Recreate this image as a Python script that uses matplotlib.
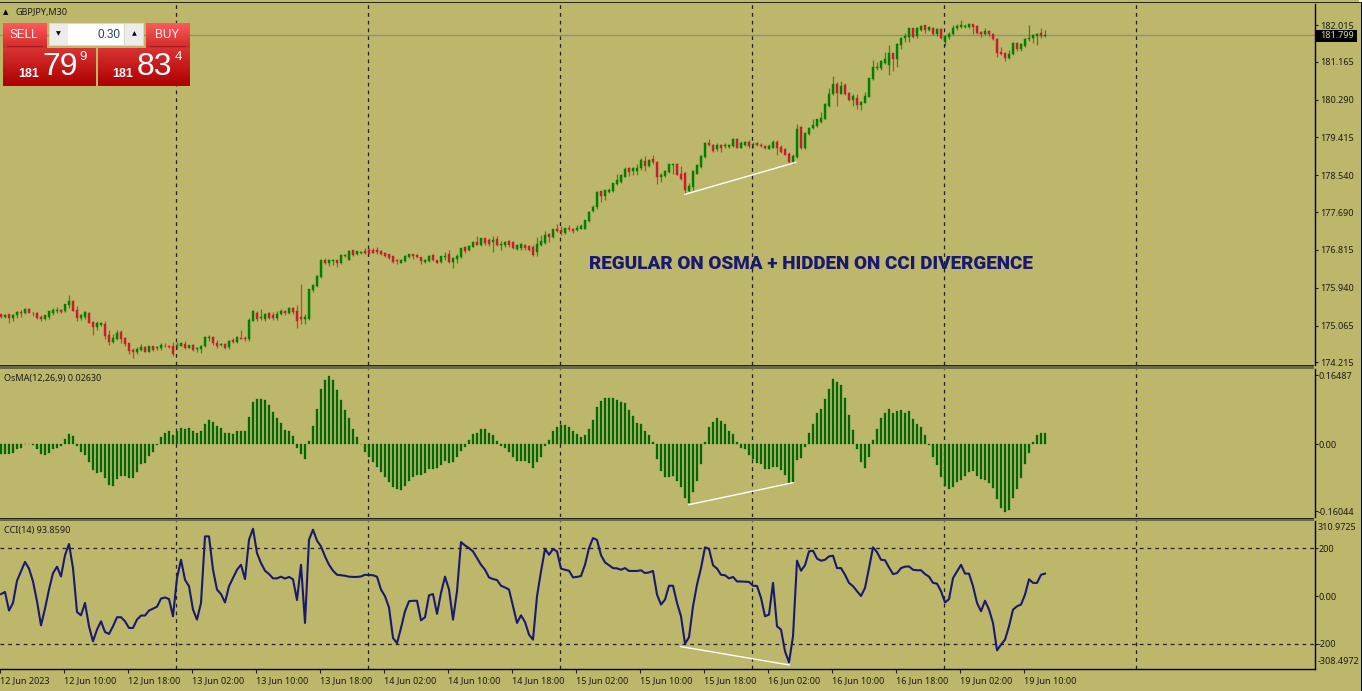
"""GBPJPY M30 terminal screenshot: candles, OsMA and CCI panes."""

import numpy as np
import matplotlib
matplotlib.use("Agg")
import matplotlib.pyplot as plt
from matplotlib.colors import LinearSegmentedColormap
from matplotlib.patches import Rectangle

# candles, one entry per 30 minute bar
opens = [
    175.33,175.27,175.32,175.25,175.30,175.37,175.35,175.45,175.36,175.36,
    175.27,175.21,175.26,175.36,175.39,175.43,175.39,175.54,175.64,175.42,
    175.24,175.26,175.36,175.14,175.02,175.08,175.11,174.84,174.68,174.75,
    174.91,174.77,174.66,174.51,174.45,174.51,174.56,174.46,174.58,174.54,
    174.54,174.60,174.60,174.58,174.59,174.59,174.63,174.55,174.61,174.52,
    174.52,174.58,174.78,174.79,174.67,174.61,174.63,174.56,174.73,174.68,
    174.78,174.78,174.75,175.17,175.36,175.25,175.22,175.35,175.30,175.24,
    175.33,175.39,175.36,175.46,175.39,175.26,175.22,175.22,175.88,175.98,
    176.19,176.575,176.50,176.56,176.575,176.50,176.68,176.59,176.81,176.71,
    176.74,176.78,176.81,176.81,176.81,176.79,176.75,176.71,176.67,176.58,
    176.52,176.55,176.65,176.71,176.70,176.65,176.54,176.56,176.70,176.58,
    176.54,176.64,176.71,176.54,176.60,176.65,176.87,176.81,176.88,176.99,
    176.92,177.09,177.04,177.00,177.06,176.93,176.92,177.01,176.99,176.84,
    176.85,176.93,176.90,176.88,176.77,176.92,176.98,177.19,177.11,177.29,
    177.28,177.21,177.33,177.29,177.27,177.29,177.30,177.49,177.72,177.80,
    178.17,178.06,178.16,178.17,178.34,178.39,178.50,178.70,178.64,178.64,
    178.70,178.87,178.75,178.91,178.85,178.50,178.52,178.62,178.77,178.81,
    178.58,178.60,178.18,178.26,178.58,178.72,178.97,179.28,179.25,179.14,
    179.24,179.21,179.19,179.22,179.38,179.18,179.25,179.31,179.24,179.28,
    179.25,179.21,179.15,179.18,179.32,179.20,179.14,179.04,178.84,178.97,
    179.66,179.16,179.49,179.63,179.68,179.77,179.85,180.15,180.42,180.65,
    180.43,180.62,180.45,180.28,180.33,180.16,180.22,180.36,180.76,181.02,
    181.03,181.14,181.10,181.36,181.24,181.55,181.71,181.73,181.94,181.76,
    181.91,182.01,181.90,181.95,181.81,181.92,181.63,181.73,181.81,181.95,
    181.98,181.98,181.96,182.04,181.99,181.85,181.81,181.88,181.81,181.69,
    181.39,181.37,181.25,181.34,181.61,181.45,181.54,181.68,181.71,181.77,
    181.82,181.76]
highs = [
    175.34,175.33,175.33,175.33,175.39,175.43,175.46,175.46,175.37,175.37,
    175.30,175.31,175.40,175.46,175.50,175.45,175.57,175.77,175.66,175.51,
    175.34,175.41,175.37,175.16,175.16,175.14,175.16,174.95,174.88,174.95,
    174.95,174.80,174.67,174.55,174.57,174.64,174.58,174.60,174.60,174.60,
    174.67,174.65,174.61,174.69,174.68,174.68,174.70,174.62,174.63,174.57,
    174.62,174.82,174.85,174.82,174.72,174.67,174.65,174.74,174.78,174.82,
    174.95,174.82,175.25,175.43,175.39,175.45,175.36,175.37,175.38,175.40,
    175.45,175.43,175.50,175.50,175.53,176.03,175.34,175.90,176.03,176.24,
    176.61,176.63,176.61,176.61,176.59,176.71,176.72,176.81,176.82,176.79,
    176.79,176.85,176.86,176.85,176.87,176.81,176.77,176.73,176.68,176.61,
    176.61,176.70,176.73,176.72,176.71,176.65,176.60,176.70,176.73,176.59,
    176.68,176.77,176.82,176.65,176.71,176.86,176.90,176.92,177.01,177.13,
    177.09,177.10,177.08,177.13,177.13,177.02,177.02,177.04,177.02,176.96,
    176.97,176.96,176.93,176.92,177.12,177.15,177.24,177.21,177.30,177.41,
    177.36,177.33,177.40,177.33,177.38,177.42,177.50,177.71,177.85,178.18,
    178.18,178.21,178.24,178.37,178.58,178.58,178.72,178.72,178.74,178.80,
    178.93,178.99,178.92,179.02,178.86,178.60,178.66,178.81,178.81,178.82,
    178.75,178.62,178.37,178.66,178.81,179.01,179.31,179.37,179.26,179.28,
    179.26,179.28,179.26,179.40,179.40,179.34,179.34,179.35,179.30,179.31,
    179.28,179.24,179.26,179.35,179.35,179.23,179.18,179.08,179.03,179.72,
    179.68,179.55,179.66,179.83,179.85,180.01,180.22,180.55,180.83,180.70,
    180.73,180.67,180.46,180.42,180.41,180.26,180.46,180.80,181.21,181.17,
    181.20,181.40,181.55,181.37,181.59,181.74,181.82,181.95,181.95,181.98,
    182.02,182.02,181.99,181.98,181.95,181.94,181.78,181.86,182.02,182.04,
    182.13,182.05,182.07,182.05,182.01,181.88,181.94,181.90,181.82,181.71,
    181.51,181.39,181.44,181.63,181.63,181.59,181.71,182.02,181.81,181.82,
    181.94,181.90]
lows = [
    175.25,175.23,175.12,175.17,175.25,175.26,175.33,175.35,175.29,175.22,
    175.16,175.19,175.22,175.30,175.36,175.36,175.38,175.46,175.39,175.18,
    175.19,175.22,175.12,174.85,174.95,175.05,174.75,174.61,174.65,174.72,
    174.65,174.60,174.41,174.32,174.41,174.47,174.45,174.45,174.48,174.50,
    174.51,174.56,174.55,174.37,174.53,174.58,174.52,174.54,174.47,174.45,
    174.43,174.57,174.71,174.62,174.55,174.58,174.53,174.53,174.67,174.66,
    174.75,174.70,174.71,175.16,175.17,175.19,175.17,175.22,175.19,175.19,
    175.30,175.31,175.33,175.33,175.01,175.09,175.09,175.19,175.84,175.96,
    176.17,176.48,176.45,176.46,176.41,176.48,176.65,176.58,176.68,176.69,
    176.71,176.73,176.71,176.75,176.73,176.69,176.65,176.61,176.52,176.49,
    176.50,176.54,176.63,176.61,176.63,176.48,176.51,176.54,176.55,176.50,
    176.52,176.59,176.51,176.40,176.50,176.63,176.75,176.79,176.87,176.92,
    176.91,176.93,176.90,176.77,176.90,176.82,176.88,176.87,176.84,176.81,
    176.81,176.82,176.78,176.68,176.68,176.90,176.94,177.00,177.10,177.22,
    177.15,177.19,177.25,177.21,177.25,177.29,177.29,177.47,177.70,177.77,
    177.93,177.96,178.14,178.16,178.31,178.37,178.49,178.52,178.54,178.54,
    178.67,178.64,178.72,178.81,178.33,178.39,178.49,178.60,178.58,178.54,
    178.44,178.10,178.16,178.20,178.57,178.70,178.95,179.21,179.08,179.11,
    179.08,179.16,179.16,179.20,179.16,179.17,179.21,179.18,179.16,179.21,
    179.20,179.15,179.14,179.16,179.02,179.05,179.01,178.83,178.81,178.94,
    179.15,179.15,179.48,179.62,179.66,179.75,179.84,180.13,180.40,180.14,
    180.41,180.39,180.26,180.14,180.07,180.05,180.20,180.34,180.74,180.97,
    180.97,181.11,180.86,180.96,181.05,181.47,181.63,181.63,181.71,181.71,
    181.88,181.84,181.88,181.78,181.76,181.69,181.53,181.68,181.78,181.91,
    181.95,181.94,181.94,181.81,181.81,181.73,181.78,181.76,181.67,181.28,
    181.32,181.18,181.23,181.32,181.42,181.42,181.51,181.65,181.61,181.55,
    181.71,181.73]
closes = [
    175.26,175.31,175.25,175.31,175.37,175.36,175.45,175.36,175.35,175.25,
    175.21,175.30,175.39,175.43,175.42,175.37,175.56,175.63,175.40,175.24,
    175.30,175.37,175.12,175.02,175.12,175.12,174.82,174.68,174.77,174.90,
    174.75,174.63,174.48,174.45,174.53,174.57,174.46,174.58,174.51,174.56,
    174.61,174.58,174.57,174.40,174.61,174.66,174.55,174.61,174.49,174.55,
    174.60,174.79,174.80,174.65,174.60,174.64,174.55,174.71,174.68,174.80,
    174.76,174.76,175.19,175.40,175.22,175.27,175.34,175.24,175.23,175.34,
    175.40,175.35,175.48,175.37,175.16,175.22,175.26,175.90,176.00,176.22,
    176.575,176.50,176.58,176.58,176.51,176.69,176.69,176.79,176.69,176.78,
    176.77,176.75,176.75,176.75,176.77,176.71,176.67,176.63,176.54,176.55,
    176.58,176.68,176.71,176.68,176.65,176.56,176.58,176.68,176.57,176.52,
    176.67,176.68,176.54,176.63,176.68,176.85,176.78,176.91,177.00,176.92,
    177.08,176.98,176.94,177.05,176.92,176.95,177.00,176.92,176.85,176.93,
    176.94,176.85,176.81,176.70,176.94,177.01,177.15,177.12,177.29,177.25,
    177.22,177.32,177.29,177.25,177.33,177.37,177.50,177.69,177.81,178.16,
    178.06,178.20,178.20,178.35,178.42,178.54,178.69,178.62,178.70,178.71,
    178.90,178.75,178.90,178.84,178.50,178.54,178.64,178.79,178.81,178.55,
    178.45,178.21,178.29,178.64,178.77,178.98,179.29,179.24,179.11,179.25,
    179.18,179.24,179.24,179.38,179.18,179.29,179.31,179.21,179.27,179.23,
    179.21,179.17,179.21,179.32,179.18,179.08,179.02,178.84,178.99,179.62,
    179.17,179.52,179.64,179.70,179.83,179.87,180.19,180.43,180.65,180.45,
    180.60,180.42,180.29,180.37,180.16,180.24,180.37,180.78,181.04,181.05,
    181.18,181.22,181.36,181.23,181.57,181.72,181.77,181.94,181.74,181.95,
    182.00,181.89,181.98,181.81,181.93,181.71,181.75,181.81,181.94,182.00,
    182.01,182.00,182.05,181.98,181.84,181.81,181.88,181.81,181.68,181.37,
    181.34,181.26,181.35,181.61,181.45,181.57,181.69,181.72,181.78,181.81,
    181.76,181.78]

osma = [
    -0.024,-0.024,-0.024,-0.022,-0.012,-0.010,-0.001,-0.001,-0.002,-0.013,
    -0.024,-0.027,-0.022,-0.012,-0.009,-0.005,0.011,0.024,0.018,-0.004,
    -0.018,-0.026,-0.044,-0.062,-0.070,-0.068,-0.081,-0.098,-0.100,-0.084,
    -0.077,-0.077,-0.081,-0.081,-0.068,-0.049,-0.045,-0.029,-0.018,-0.002,
    0.016,0.026,0.032,0.022,0.030,0.038,0.036,0.038,0.032,0.026,
    0.032,0.049,0.057,0.052,0.042,0.038,0.027,0.027,0.024,0.030,
    0.032,0.032,0.065,0.100,0.108,0.108,0.106,0.094,0.076,0.062,
    0.050,0.034,0.030,0.018,-0.010,-0.024,-0.035,0.007,0.043,0.084,
    0.132,0.154,0.163,0.152,0.128,0.106,0.081,0.062,0.035,0.016,
    -0.001,-0.020,-0.032,-0.044,-0.054,-0.066,-0.078,-0.090,-0.102,-0.108,
    -0.111,-0.101,-0.089,-0.078,-0.073,-0.073,-0.069,-0.060,-0.060,-0.058,
    -0.050,-0.041,-0.045,-0.042,-0.032,-0.016,-0.006,0.009,0.023,0.026,
    0.037,0.037,0.026,0.022,0.008,-0.004,-0.010,-0.018,-0.032,-0.041,
    -0.041,-0.041,-0.045,-0.057,-0.043,-0.030,-0.005,0.010,0.030,0.040,
    0.045,0.045,0.041,0.032,0.024,0.016,0.022,0.037,0.057,0.089,
    0.103,0.111,0.111,0.111,0.105,0.100,0.097,0.081,0.068,0.051,
    0.049,0.030,0.022,0.005,-0.037,-0.065,-0.078,-0.078,-0.076,-0.089,
    -0.104,-0.130,-0.140,-0.114,-0.089,-0.049,0.005,0.041,0.053,0.062,
    0.056,0.047,0.032,0.025,0.005,-0.009,-0.013,-0.027,-0.037,-0.045,
    -0.049,-0.059,-0.060,-0.054,-0.056,-0.062,-0.073,-0.093,-0.091,-0.038,
    -0.034,-0.008,0.026,0.048,0.073,0.084,0.108,0.132,0.156,0.149,
    0.141,0.111,0.069,0.034,-0.013,-0.043,-0.057,-0.030,0.010,0.037,
    0.062,0.073,0.084,0.073,0.078,0.081,0.075,0.078,0.060,0.048,
    0.041,0.022,-0.002,-0.032,-0.051,-0.078,-0.100,-0.108,-0.103,-0.092,
    -0.085,-0.076,-0.068,-0.065,-0.076,-0.084,-0.086,-0.093,-0.105,-0.132,
    -0.152,-0.162,-0.157,-0.128,-0.108,-0.081,-0.049,-0.022,0.005,0.022,
    0.027,0.027]

cci = [
    8,17,-61,-29,64,103,143,115,61,-22,
    -123,-53,27,96,123,82,171,218,117,-67,
    -81,-29,-127,-190,-141,-106,-151,-159,-127,-89,
    -89,-106,-134,-134,-99,-82,-82,-61,-53,-45,
    -11,-6,-13,-85,75,152,68,41,-57,-99,
    -29,250,250,110,27,8,-27,41,75,110,
    131,71,236,282,180,138,106,92,74,74,
    81,73,80,70,-17,131,-113,236,278,232,
    208,166,131,106,89,87,85,81,80,80,
    82,89,88,87,81,27,-1,-48,-176,-198,
    -134,-64,-22,-20,-20,-102,-89,3,8,-75,
    13,81,27,-99,20,226,212,201,187,159,
    131,110,78,71,67,43,36,27,-43,-113,
    -81,-109,-162,-183,-1,103,198,173,197,187,
    115,110,106,78,80,84,131,201,243,235,
    171,141,129,117,116,110,117,105,105,105,
    108,96,99,105,6,-36,-15,43,43,-29,
    -85,-200,-173,-43,48,117,204,198,129,115,
    89,87,74,80,61,61,60,59,43,42,
    -8,-85,-78,55,-127,-141,-232,-278,-169,148,
    106,129,187,190,157,148,152,166,169,117,
    117,89,55,41,20,0,34,117,204,184,
    152,150,120,92,96,117,123,124,110,108,
    108,92,81,55,52,20,-27,-13,75,103,
    131,94,94,41,-29,-64,-20,-57,-113,-228,
    -204,-183,-127,-57,-43,-36,6,70,55,55,
    89,94]

time_labels = ["12 Jun 2023", "12 Jun 10:00", "12 Jun 18:00", "13 Jun 02:00",
               "13 Jun 10:00", "13 Jun 18:00", "14 Jun 02:00", "14 Jun 10:00",
               "14 Jun 18:00", "15 Jun 02:00", "15 Jun 10:00", "15 Jun 18:00",
               "16 Jun 02:00", "16 Jun 10:00", "16 Jun 18:00", "19 Jun 02:00",
               "19 Jun 10:00"]
time_ticks = list(range(0, 257, 16))
day_lines = [44, 92, 140, 188, 236, 284]

price_ticks = [182.015, 181.165, 180.290, 179.415, 178.540,
               177.690, 176.815, 175.940, 175.065, 174.215]
bid = 181.78

# divergence lines, (bar, value) at each end
price_div = ([171, 198.75], [178.10, 178.84])
osma_div = ([172, 198], [-0.145, -0.0925])
cci_div = ([169.9, 197], [-212, -289])

W, H = 1362, 691
BG = "#BDB76B"
INK = "#1c1c14"
GREEN = "#008000"
RED = "#c2202c"
FONT = "Noto Sans"
SMALL = 6.5
GRID_SHIFT = -0.25  # terminal draws grid and ticks a touch left of the bar centre

plt.rcParams["font.family"] = FONT
fig = plt.figure(figsize=(W / 100, H / 100), dpi=100, facecolor=BG)


def pane(top, bottom):
    # axes placed by its pixel rows, x runs in bars at 4 px each
    a = fig.add_axes([0, 1 - bottom / H, 1314.5 / W, (bottom - top) / H], facecolor=BG)
    a.set_xlim(-0.25, 328.37)
    for s in ["top", "left", "bottom"]:
        a.spines[s].set_visible(False)
    a.spines["right"].set_color("black")
    a.spines["right"].set_linewidth(1.0)
    a.yaxis.tick_right()
    a.tick_params(axis="y", length=2.2, width=0.8, pad=1.9, labelsize=SMALL, colors=INK)
    a.set_xticks([])
    for d in day_lines:
        a.axvline(d + GRID_SHIFT, color="#22221a", lw=0.9, ls=(0, (3, 3.2)), zorder=1)
    return a


x = np.arange(len(closes))
o = np.array(opens)
c = np.array(closes)
colors = [GREEN if c[i] >= o[i] else RED for i in x]

# price pane
ax = pane(4, 365)
ax.set_ylim(174.152, 182.501)
ax.axhline(bid, color="#8d9183", lw=1.0, zorder=2)
ax.vlines(x, lows, highs, colors=colors, lw=0.9, alpha=0.75, zorder=3)
ax.bar(x, np.abs(c - o), bottom=np.minimum(o, c), width=0.7, color=colors,
       edgecolor=colors, linewidth=0.3, zorder=4)
ax.plot(*price_div, color="white", lw=1.0, zorder=5)
ax.set_yticks(price_ticks)
ax.set_yticklabels(["%.3f" % p for p in price_ticks])

# OsMA pane
ax2 = pane(369, 517)
ax2.set_ylim(-0.1746, 0.1794)
ax2.bar(x, osma, width=0.7, color="#006800", edgecolor="#006800", linewidth=0.2, zorder=3)
ax2.plot(*osma_div, color="white", lw=1.0, zorder=5)
ax2.set_yticks([0.16487, 0.0, -0.16044])
ax2.set_yticklabels(["0.16487", "0.00", "-0.16044"])
ax2.tick_params(axis="y", pad=0.4)

# CCI pane
ax3 = pane(521, 668.5)
ax3.set_ylim(-304, 314.5)
ax3.axhline(200, color="#22221a", lw=0.9, ls=(0, (3, 3.2)), zorder=1)
ax3.axhline(-200, color="#22221a", lw=0.9, ls=(0, (3, 3.2)), zorder=1)
ax3.plot(x, cci, color="#191970", lw=1.5, zorder=3)
ax3.plot(*cci_div, color="white", lw=1.0, zorder=5)
ax3.set_yticks([200, 0, -200])
ax3.set_yticklabels(["200", "0.00", "-200"])
ax3.tick_params(axis="y", pad=0.4)
ax3.spines["bottom"].set_visible(True)
ax3.spines["bottom"].set_color("black")
ax3.spines["bottom"].set_linewidth(1.0)
ax3.set_xticks(np.array(time_ticks) + GRID_SHIFT)
ax3.set_xticklabels(time_labels, ha="left")
ax3.tick_params(axis="x", length=3, width=0.8, pad=2.6, labelsize=SMALL, colors=INK)

# chrome on top of everything, in pixel coordinates
ui = fig.add_axes([0, 0, 1, 1], facecolor="none")
ui.axis("off")


def grad(x0, y0, x1, y1, top, bottom):
    cm = LinearSegmentedColormap.from_list("g", [top, bottom])
    ui.imshow(np.linspace(0, 1, 64).reshape(-1, 1), cmap=cm, aspect="auto",
              extent=(x0, x1, y1, y0), zorder=5)


def box(x0, y0, x1, y1, color, zorder=5, **kw):
    ui.add_patch(Rectangle((x0, y0), x1 - x0, y1 - y0, facecolor=color, edgecolor="none",
                           zorder=zorder, **kw))


# pane separators and outer frame
box(0, 2, 1362, 3.2, "#2a2a1c")
box(0, 365, 1314, 369, "#6c6a44")
box(0, 365, 1314, 366.2, "#24241a")
box(0, 517.6, 1314, 521, "#6c6a44")
box(0, 517.6, 1314, 518.8, "#24241a")
box(1360.6, 3, 1362, 691, "black")
box(1359, 0, 1362, 2, "white")

# bid label on the price axis
box(1316, 29.5, 1357, 41.8, "black", zorder=6)
ui.text(1320.5, 35.5, "181.799", color="#d8d8a8", fontsize=SMALL, va="center", zorder=7)

ui.text(589, 264, "REGULAR ON OSMA + HIDDEN ON CCI DIVERGENCE", color="#191970",
        fontsize=13.6, fontweight="black", family="Roboto", va="center", zorder=7)

# labels inside the panes
ui.text(6, 12, "\u25b2", fontsize=5, color="black", ha="center", va="center", family="DejaVu Sans")
ui.text(15, 12, "GBPJPY,M30", fontsize=SMALL, color=INK, va="center")
ui.text(4, 378.5, "OsMA(12,26,9) 0.02630", fontsize=SMALL, color=INK, va="center")
ui.text(4, 530.5, "CCI(14) 93.8590", fontsize=SMALL, color=INK, va="center")
ui.text(1318, 528, "310.9725", fontsize=SMALL, color=INK, va="center")
ui.text(1318, 661, "-308.4972", fontsize=SMALL, color=INK, va="center")

# one click trading panel
grad(3, 23, 47, 48, "#ff5a5a", "#d12a2a")
grad(146, 23, 190, 48, "#ff5a5a", "#d12a2a")
grad(3, 48, 96, 86, "#d93232", "#ad0000")
grad(98, 48, 190, 86, "#d93232", "#ad0000")
box(7, 46.4, 43, 47.3, "#a81c1c", zorder=6)
box(150, 46.4, 186, 47.3, "#a81c1c", zorder=6)
box(49, 23, 144, 45.5, "#d6d6d2")
box(68, 23.8, 124, 44.6, "white", zorder=6)
box(50, 24, 67.5, 44.5, "#ececea", zorder=6)
box(124.8, 24, 143, 44.5, "#ececea", zorder=6)
ui.text(58.5, 34, "\u25bc", fontsize=4.5, color="black", ha="center", va="center", family="DejaVu Sans", zorder=7)
ui.text(134, 34, "\u25b2", fontsize=4.5, color="black", ha="center", va="center", family="DejaVu Sans", zorder=7)
ui.text(120, 34.5, "0.30", fontsize=8.5, color="#24425a", ha="right", va="center", family="Liberation Sans", zorder=7)
ui.text(24, 34.5, "SELL", fontsize=8.5, color="white", ha="center", va="center", family="Liberation Sans", zorder=7)
ui.text(167, 34.5, "BUY", fontsize=8.5, color="white", ha="center", va="center", family="Liberation Sans", zorder=7)
ui.text(29, 74, "181", fontsize=9, color="white", fontweight="bold", ha="center", va="center", family="Liberation Sans", zorder=7)
ui.text(60.5, 67, "79", fontsize=23, color="white", ha="center", va="center", family="Liberation Sans", zorder=7)
ui.text(83.5, 57, "9", fontsize=9.5, color="white", ha="center", va="center", family="Liberation Sans", zorder=7)
ui.text(123, 74, "181", fontsize=9, color="white", fontweight="bold", ha="center", va="center", family="Liberation Sans", zorder=7)
ui.text(154.5, 67, "83", fontsize=23, color="white", ha="center", va="center", family="Liberation Sans", zorder=7)
ui.text(178, 57, "4", fontsize=9.5, color="white", ha="center", va="center", family="Liberation Sans", zorder=7)

ui.set_xlim(0, W)
ui.set_ylim(H, 0)

fig.savefig("out.png", dpi=100, facecolor=BG)
